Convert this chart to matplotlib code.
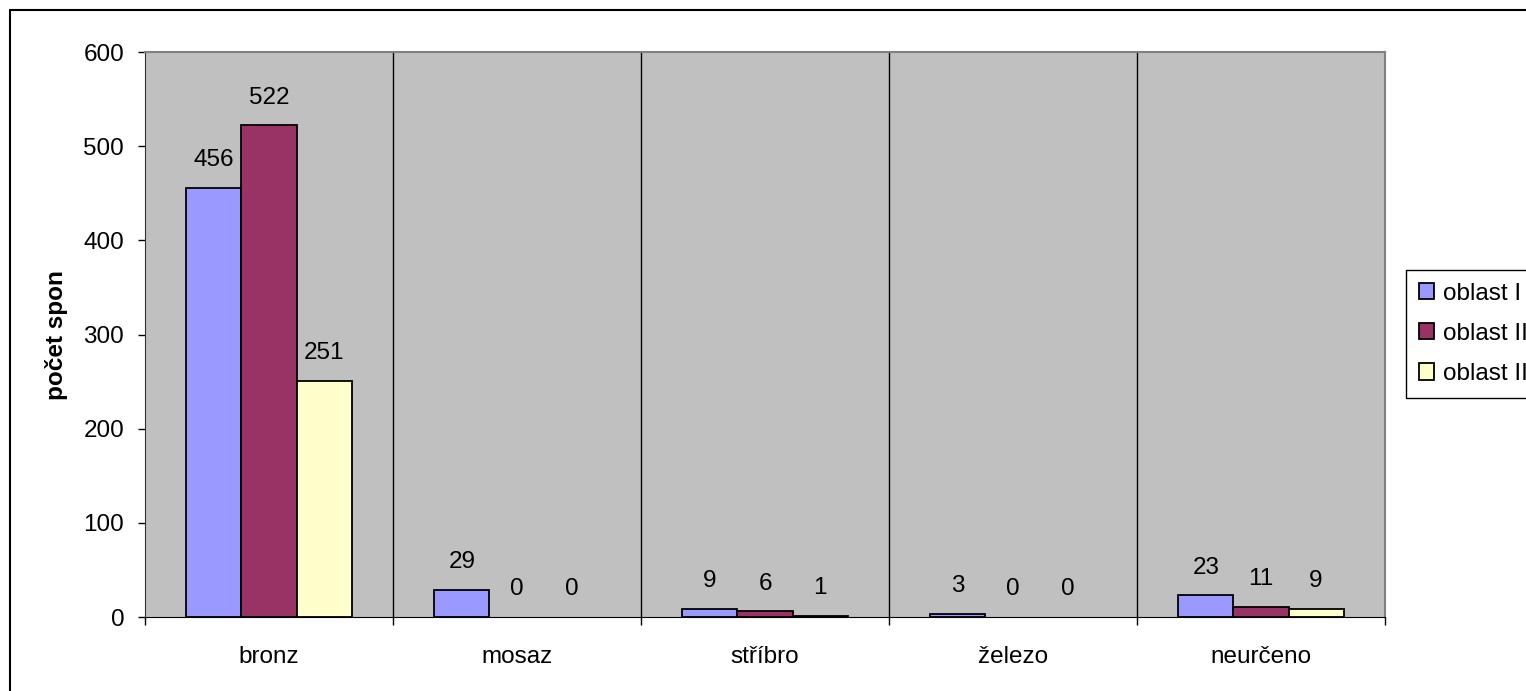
import matplotlib
matplotlib.use("Agg")
import matplotlib.pyplot as plt
from matplotlib.patches import Patch, Rectangle
import numpy as np

categories = ["bronz", "mosaz", "stříbro", "železo", "neurčeno"]
series_names = ["oblast I", "oblast II", "oblast III"]
oblast_1 = [456, 29, 9, 3, 23]
oblast_2 = [522, 0, 6, 0, 11]
oblast_3 = [251, 0, 1, 0, 9]
y_ticks = [0, 100, 200, 300, 400, 500, 600]

colors = ["#9999FF", "#993366", "#FFFFCC"]

plt.rcParams["font.family"] = ["Liberation Sans", "DejaVu Sans"]
FS = 17.5

W, H = 1526, 691
fig = plt.figure(figsize=(W / 100, H / 100), dpi=100)
ax = fig.add_axes([145 / W, 1 - 617 / H, (1385 - 145) / W, (617 - 52) / H])
ax.set_facecolor("#C0C0C0")

x = np.arange(len(categories))
bw = 0.222
series = [oblast_1, oblast_2, oblast_3]
for i, (vals, col) in enumerate(zip(series, colors)):
    pos = x + (i - 1) * bw
    bars = ax.bar(pos, vals, width=bw, color=col, edgecolor="black", linewidth=1.3, zorder=3)
    for patch, v in zip(bars, vals):
        if v == 0:
            patch.set_visible(False)
    for px, v in zip(pos, vals):
        ax.annotate(str(v), (px, v), xytext=(0, 20), textcoords="offset points",
                    ha="center", va="center", fontsize=FS, color="black", zorder=4)

ax.set_xlim(-0.5, len(categories) - 0.5)
ax.set_ylim(0, 600)
ax.set_yticks(y_ticks)
ax.tick_params(axis="y", direction="out", length=5, width=1, pad=10, labelsize=FS)

# Category boundaries carry the tick marks, centres carry the labels
ax.set_xticks(np.arange(len(categories) + 1) - 0.5)
ax.set_xticklabels([])
ax.set_xticks(x, minor=True)
ax.set_xticklabels(categories, minor=True, fontsize=FS)
ax.tick_params(axis="x", which="major", direction="out", length=6, width=1)
ax.tick_params(axis="x", which="minor", length=0, pad=21)

for b in np.arange(1, len(categories)) - 0.5:
    ax.axvline(b, color="black", linewidth=1, zorder=2)

ax.spines["top"].set_color("#808080")
ax.spines["right"].set_color("#808080")
ax.spines["top"].set_linewidth(1.5)
ax.spines["right"].set_linewidth(1.5)
ax.spines["left"].set_color("#333333")
ax.spines["bottom"].set_color("black")

fig.text(57 / W, 1 - 335 / H, "počet spon", rotation=90, ha="center", va="center",
         fontsize=FS, fontweight="bold")

handles = [Patch(facecolor=c, edgecolor="black", linewidth=1.3) for c in colors]
leg = fig.legend(handles, series_names, loc="upper left",
                 bbox_to_anchor=(1406 / W, 1 - 270 / H), bbox_transform=fig.transFigure,
                 fontsize=FS, handlelength=0.65, handleheight=0.65, handletextpad=0.35,
                 labelspacing=0.75, borderpad=0.52, borderaxespad=0, fancybox=False,
                 frameon=True, framealpha=1, edgecolor="black")
leg.get_frame().set_linewidth(1)

# Outer chart frame
fig.patches.append(Rectangle((10 / W, -0.5), 2, 1.5 - 10 / H, transform=fig.transFigure,
                             fill=False, edgecolor="black", linewidth=1.5))

fig.savefig("out.png", dpi=100)
